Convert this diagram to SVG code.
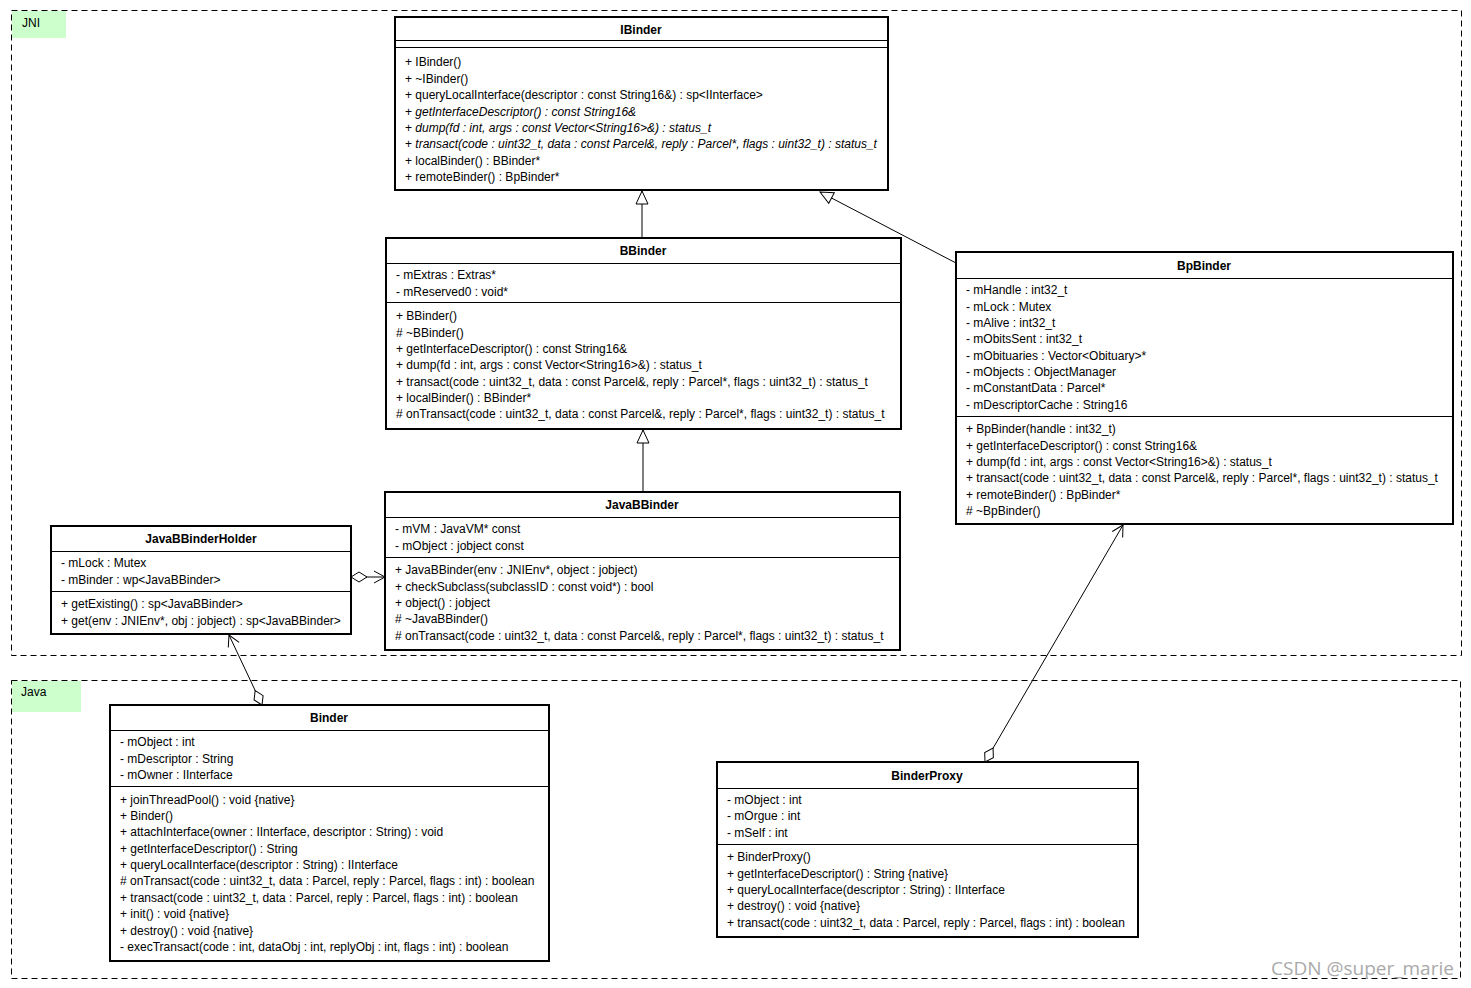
<svg xmlns="http://www.w3.org/2000/svg" width="1471" height="988" viewBox="0 0 1471 988">
<style>
text{font-family:"Liberation Sans",Arial,sans-serif;font-size:12px;fill:#000}
.t{font-weight:bold;text-anchor:middle}
.i{font-style:italic}
.box{fill:#fff;stroke:#000;stroke-width:2}
.sep{stroke:#000;stroke-width:1}
.frame{fill:none;stroke:#000;stroke-width:1;stroke-dasharray:6 4}
.lbl{fill:#ccffcc}
.con{fill:none;stroke:#000;stroke-width:1}
.wm{font-family:"Open Sans","Liberation Sans",sans-serif;font-size:19px;fill:#a9a9a9}
</style>
<defs>
<marker id="tri" viewBox="-15 -8 16 16" refX="0" refY="0" markerWidth="16" markerHeight="16" markerUnits="userSpaceOnUse" orient="auto">
<path d="M0,0 L-13,-6 L-13,6 Z" fill="#fff" stroke="#000" stroke-width="1"/>
</marker>
<marker id="arr" viewBox="-12 -8 13 16" refX="0" refY="0" markerWidth="13" markerHeight="16" markerUnits="userSpaceOnUse" orient="auto">
<path d="M-11,-6 L0,0 L-11,6" fill="none" stroke="#000" stroke-width="1"/>
</marker>
<marker id="dia" viewBox="-1 -7 18 14" refX="0" refY="0" markerWidth="18" markerHeight="14" markerUnits="userSpaceOnUse" orient="auto">
<path d="M0,0 L8,-5 L16,0 L8,5 Z" fill="#fff" stroke="#000" stroke-width="1"/>
</marker>
</defs>

<g id="frame-jni">
<rect class="frame" x="11.5" y="10.5" width="1450" height="645"/>
<rect class="lbl" x="12" y="11" width="54" height="27"/>
<text x="22" y="27">JNI</text>
</g>
<g id="frame-java">
<rect class="frame" x="11.5" y="680.5" width="1449" height="298"/>
<rect class="lbl" x="12" y="681" width="69" height="31"/>
<text x="21" y="696">Java</text>
</g>

<g id="connectors">
<path class="con" d="M642,238 L642,191" marker-end="url(#tri)"/>
<path class="con" d="M956,263 L820,192" marker-end="url(#tri)"/>
<path class="con" d="M643,492 L643,430" marker-end="url(#tri)"/>
<path class="con" d="M351,577 L385,577" marker-start="url(#dia)" marker-end="url(#arr)"/>
<path class="con" d="M262,705 L229,635" marker-start="url(#dia)" marker-end="url(#arr)"/>
<path class="con" d="M985,762 L1123,525" marker-start="url(#dia)" marker-end="url(#arr)"/>
</g>

<g id="IBinder">
<rect class="box" x="395" y="17" width="493" height="173"/>
<text class="t" x="641" y="34">IBinder</text>
<line class="sep" x1="395" y1="40.5" x2="888" y2="40.5"/>
<line class="sep" x1="395" y1="47.5" x2="888" y2="47.5"/>
<text x="405" y="66">+ IBinder()</text>
<text x="405" y="83">+ ~IBinder()</text>
<text x="405" y="99">+ queryLocalInterface(descriptor : const String16&amp;) : sp&lt;IInterface&gt;</text>
<text x="405" y="116">+ <tspan class="i">getInterfaceDescriptor() : const String16&amp;</tspan></text>
<text x="405" y="132">+ <tspan class="i">dump(fd : int, args : const Vector&lt;String16&gt;&amp;) : status_t</tspan></text>
<text x="405" y="148">+ <tspan class="i">transact(code : uint32_t, data : const Parcel&amp;, reply : Parcel*, flags : uint32_t) : status_t</tspan></text>
<text x="405" y="165">+ localBinder() : BBinder*</text>
<text x="405" y="181">+ remoteBinder() : BpBinder*</text>
</g>

<g id="BBinder">
<rect class="box" x="386" y="238" width="515" height="191"/>
<text class="t" x="643" y="255">BBinder</text>
<line class="sep" x1="386" y1="263.5" x2="901" y2="263.5"/>
<text x="396" y="279">- mExtras : Extras*</text>
<text x="396" y="296">- mReserved0 : void*</text>
<line class="sep" x1="386" y1="302.5" x2="901" y2="302.5"/>
<text x="396" y="320">+ BBinder()</text>
<text x="396" y="337"># ~BBinder()</text>
<text x="396" y="353">+ getInterfaceDescriptor() : const String16&amp;</text>
<text x="396" y="369">+ dump(fd : int, args : const Vector&lt;String16&gt;&amp;) : status_t</text>
<text x="396" y="386">+ transact(code : uint32_t, data : const Parcel&amp;, reply : Parcel*, flags : uint32_t) : status_t</text>
<text x="396" y="402">+ localBinder() : BBinder*</text>
<text x="396" y="418"># onTransact(code : uint32_t, data : const Parcel&amp;, reply : Parcel*, flags : uint32_t) : status_t</text>
</g>

<g id="BpBinder">
<rect class="box" x="956" y="252" width="497" height="272"/>
<text class="t" x="1204" y="270">BpBinder</text>
<line class="sep" x1="956" y1="278.5" x2="1453" y2="278.5"/>
<text x="966" y="294">- mHandle : int32_t</text>
<text x="966" y="311">- mLock : Mutex</text>
<text x="966" y="327">- mAlive : int32_t</text>
<text x="966" y="343">- mObitsSent : int32_t</text>
<text x="966" y="360">- mObituaries : Vector&lt;Obituary&gt;*</text>
<text x="966" y="376">- mObjects : ObjectManager</text>
<text x="966" y="392">- mConstantData : Parcel*</text>
<text x="966" y="409">- mDescriptorCache : String16</text>
<line class="sep" x1="956" y1="416.5" x2="1453" y2="416.5"/>
<text x="966" y="433">+ BpBinder(handle : int32_t)</text>
<text x="966" y="450">+ getInterfaceDescriptor() : const String16&amp;</text>
<text x="966" y="466">+ dump(fd : int, args : const Vector&lt;String16&gt;&amp;) : status_t</text>
<text x="966" y="482">+ transact(code : uint32_t, data : const Parcel&amp;, reply : Parcel*, flags : uint32_t) : status_t</text>
<text x="966" y="499">+ remoteBinder() : BpBinder*</text>
<text x="966" y="515"># ~BpBinder()</text>
</g>

<g id="JavaBBinder">
<rect class="box" x="385" y="492" width="515" height="158"/>
<text class="t" x="642" y="509">JavaBBinder</text>
<line class="sep" x1="385" y1="517.5" x2="900" y2="517.5"/>
<text x="395" y="533">- mVM : JavaVM* const</text>
<text x="395" y="550">- mObject : jobject const</text>
<line class="sep" x1="385" y1="557.5" x2="900" y2="557.5"/>
<text x="395" y="574">+ JavaBBinder(env : JNIEnv*, object : jobject)</text>
<text x="395" y="591">+ checkSubclass(subclassID : const void*) : bool</text>
<text x="395" y="607">+ object() : jobject</text>
<text x="395" y="623"># ~JavaBBinder()</text>
<text x="395" y="640"># onTransact(code : uint32_t, data : const Parcel&amp;, reply : Parcel*, flags : uint32_t) : status_t</text>
</g>

<g id="JavaBBinderHolder">
<rect class="box" x="51" y="526" width="300" height="108"/>
<text class="t" x="201" y="543">JavaBBinderHolder</text>
<line class="sep" x1="51" y1="551.5" x2="351" y2="551.5"/>
<text x="61" y="567">- mLock : Mutex</text>
<text x="61" y="584">- mBinder : wp&lt;JavaBBinder&gt;</text>
<line class="sep" x1="51" y1="591.5" x2="351" y2="591.5"/>
<text x="61" y="608">+ getExisting() : sp&lt;JavaBBinder&gt;</text>
<text x="61" y="625">+ get(env : JNIEnv*, obj : jobject) : sp&lt;JavaBBinder&gt;</text>
</g>

<g id="Binder">
<rect class="box" x="110" y="705" width="439" height="256"/>
<text class="t" x="329" y="722">Binder</text>
<line class="sep" x1="110" y1="730.5" x2="549" y2="730.5"/>
<text x="120" y="746">- mObject : int</text>
<text x="120" y="763">- mDescriptor : String</text>
<text x="120" y="779">- mOwner : IInterface</text>
<line class="sep" x1="110" y1="786.5" x2="549" y2="786.5"/>
<text x="120" y="804">+ joinThreadPool() : void {native}</text>
<text x="120" y="820">+ Binder()</text>
<text x="120" y="836">+ attachInterface(owner : IInterface, descriptor : String) : void</text>
<text x="120" y="853">+ getInterfaceDescriptor() : String</text>
<text x="120" y="869">+ queryLocalInterface(descriptor : String) : IInterface</text>
<text x="120" y="885"># onTransact(code : uint32_t, data : Parcel, reply : Parcel, flags : int) : boolean</text>
<text x="120" y="902">+ transact(code : uint32_t, data : Parcel, reply : Parcel, flags : int) : boolean</text>
<text x="120" y="918">+ init() : void {native}</text>
<text x="120" y="935">+ destroy() : void {native}</text>
<text x="120" y="951">- execTransact(code : int, dataObj : int, replyObj : int, flags : int) : boolean</text>
</g>

<g id="BinderProxy">
<rect class="box" x="717" y="762" width="421" height="175"/>
<text class="t" x="927" y="780">BinderProxy</text>
<line class="sep" x1="717" y1="788.5" x2="1138" y2="788.5"/>
<text x="727" y="804">- mObject : int</text>
<text x="727" y="820">- mOrgue : int</text>
<text x="727" y="837">- mSelf : int</text>
<line class="sep" x1="717" y1="844.5" x2="1138" y2="844.5"/>
<text x="727" y="861">+ BinderProxy()</text>
<text x="727" y="878">+ getInterfaceDescriptor() : String {native}</text>
<text x="727" y="894">+ queryLocalInterface(descriptor : String) : IInterface</text>
<text x="727" y="910">+ destroy() : void {native}</text>
<text x="727" y="927">+ transact(code : uint32_t, data : Parcel, reply : Parcel, flags : int) : boolean</text>
</g>

<text class="wm" x="1271" y="975">CSDN @super_marie</text>
</svg>
